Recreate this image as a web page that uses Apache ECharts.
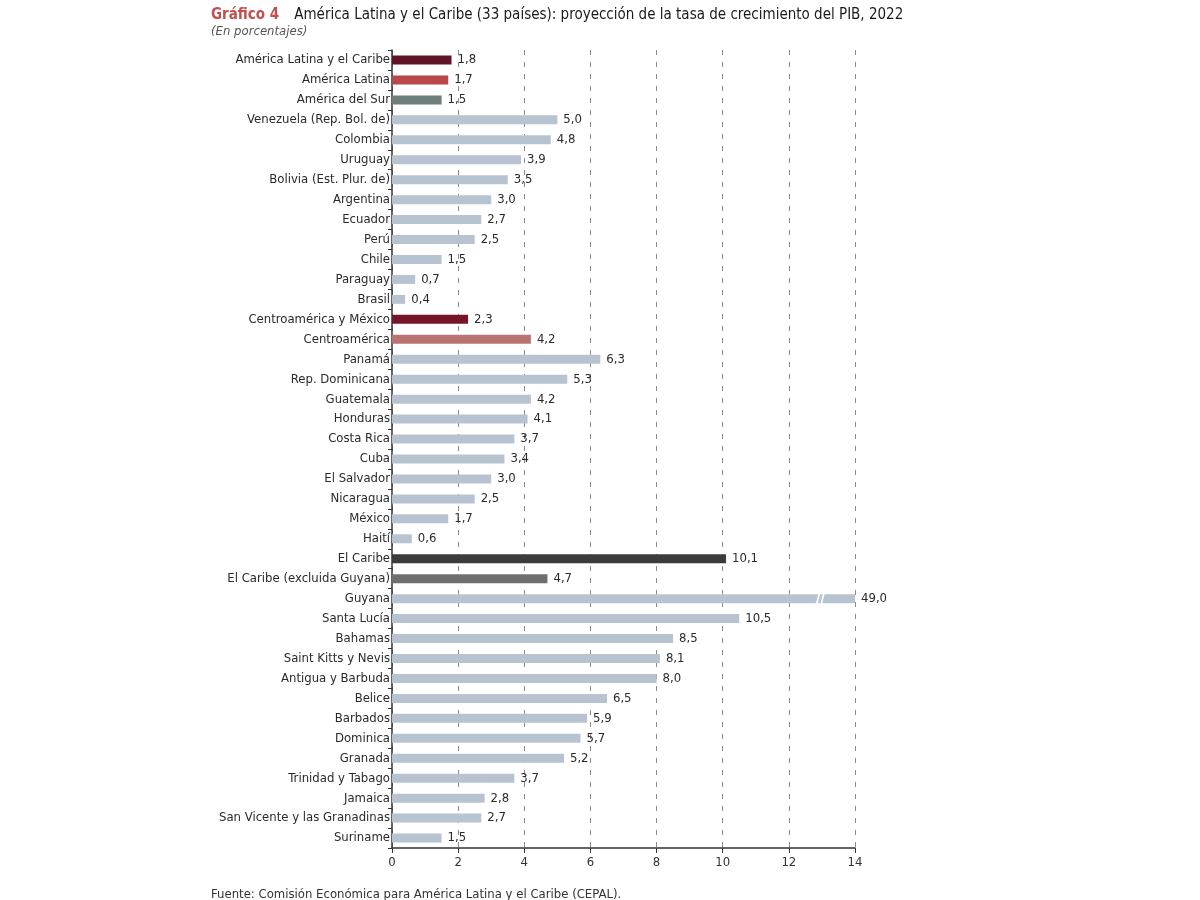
<!DOCTYPE html>
<html>
<head>
<meta charset="utf-8">
<script src="https://cdn.jsdelivr.net/npm/echarts@6/dist/echarts.min.js"></script>
<style>html,body{margin:0;padding:0;background:#fff}#c{width:1200px;height:900px}</style>
</head>
<body>
<div id="c"></div>
<script>
const categories = ["América Latina y el Caribe","América Latina","América del Sur","Venezuela (Rep. Bol. de)","Colombia","Uruguay","Bolivia (Est. Plur. de)","Argentina","Ecuador","Perú","Chile","Paraguay","Brasil","Centroamérica y México","Centroamérica","Panamá","Rep. Dominicana","Guatemala","Honduras","Costa Rica","Cuba","El Salvador","Nicaragua","México","Haití","El Caribe","El Caribe (excluida Guyana)","Guyana","Santa Lucía","Bahamas","Saint Kitts y Nevis","Antigua y Barbuda","Belice","Barbados","Dominica","Granada","Trinidad y Tabago","Jamaica","San Vicente y las Granadinas","Suriname"];
const values = [1.8,1.7,1.5,5.0,4.8,3.9,3.5,3.0,2.7,2.5,1.5,0.7,0.4,2.3,4.2,6.3,5.3,4.2,4.1,3.7,3.4,3.0,2.5,1.7,0.6,10.1,4.7,49.0,10.5,8.5,8.1,8.0,6.5,5.9,5.7,5.2,3.7,2.8,2.7,1.5];
const xTicks = [0,2,4,6,8,10,12,14];
const axisMax = 14;
const specialColors = {
  "América Latina y el Caribe": "#5e1326",
  "América Latina": "#b8474c",
  "América del Sur": "#6c7f7a",
  "Centroamérica y México": "#741628",
  "Centroamérica": "#b97472",
  "El Caribe": "#3b3b3b",
  "El Caribe (excluida Guyana)": "#6f6f6f"
};
const baseColor = "#b8c3d1";
const FONT = "'Liberation Sans Narrow','DejaVu Sans Condensed','Roboto',sans-serif";

const chart = echarts.init(document.getElementById('c'));
const data = categories.map((c, i) => ({
  value: Math.min(values[i], axisMax),
  realValue: values[i],
  itemStyle: { color: specialColors[c] || baseColor }
}));
const guyIdx = values.findIndex(v => v > axisMax);

chart.setOption({
  animation: false,
  backgroundColor: '#fff',
  title: [{
    left: 206, top: 1,
    text: '{a|Gráfico 4}   {b|América Latina y el Caribe (33 países): proyección de la tasa de crecimiento del PIB, 2022}',
    textStyle: {
      rich: {
        a: { fontFamily: FONT, fontSize: 15, fontWeight: 'bold', color: '#c0504d' },
        b: { fontFamily: FONT, fontSize: 15, fontWeight: 'normal', color: '#1a1a1a' }
      }
    }
  }, {
    left: 206, top: 20,
    text: '(En porcentajes)',
    textStyle: { fontFamily: FONT, fontSize: 13, fontStyle: 'italic', fontWeight: 'normal', color: '#555' }
  }, {
    left: 206, top: 883,
    text: 'Fuente: Comisión Económica para América Latina y el Caribe (CEPAL).',
    textStyle: { fontFamily: FONT, fontSize: 13, fontWeight: 'normal', color: '#333' }
  }],
  grid: { left: 392, right: 345, top: 50, bottom: 52, containLabel: false },
  xAxis: {
    type: 'value', min: 0, max: axisMax, interval: 2,
    axisLine: { show: true, lineStyle: { color: '#333', width: 1.5 } },
    axisTick: { show: true, length: 5, lineStyle: { color: '#333' } },
    axisLabel: { fontFamily: FONT, fontSize: 13, color: '#333', margin: 8,
      formatter: v => xTicks.includes(v) ? String(v) : '' },
    splitLine: { show: true, lineStyle: { color: '#8a8a8a', type: [5, 7], width: 1 } }
  },
  yAxis: {
    type: 'category', data: categories, inverse: true,
    axisLine: { show: true, lineStyle: { color: '#333', width: 1.5 } },
    axisTick: { show: true, length: 4, lineStyle: { color: '#333' } },
    axisLabel: { fontFamily: FONT, fontSize: 13, color: '#2a2a2a', margin: 2 },
    splitLine: { show: false }
  },
  series: [{
    type: 'bar',
    data: data,
    barWidth: 9,
    label: {
      show: true, position: 'right', distance: 6,
      fontFamily: FONT, fontSize: 13, color: '#2a2a2a',
      formatter: p => p.data.realValue.toFixed(1).replace('.', ',')
    },
    markPoint: {
      silent: true,
      label: { show: false },
      symbol: 'path://M3,0 L5,0 L2,10 L0,10 Z M8,0 L10,0 L7,10 L5,10 Z',
      symbolSize: [9, 11],
      itemStyle: { color: '#ffffff' },
      data: [{ coord: [12.95, categories[guyIdx]] }]
    }
  }]
});
</script>
</body>
</html>
